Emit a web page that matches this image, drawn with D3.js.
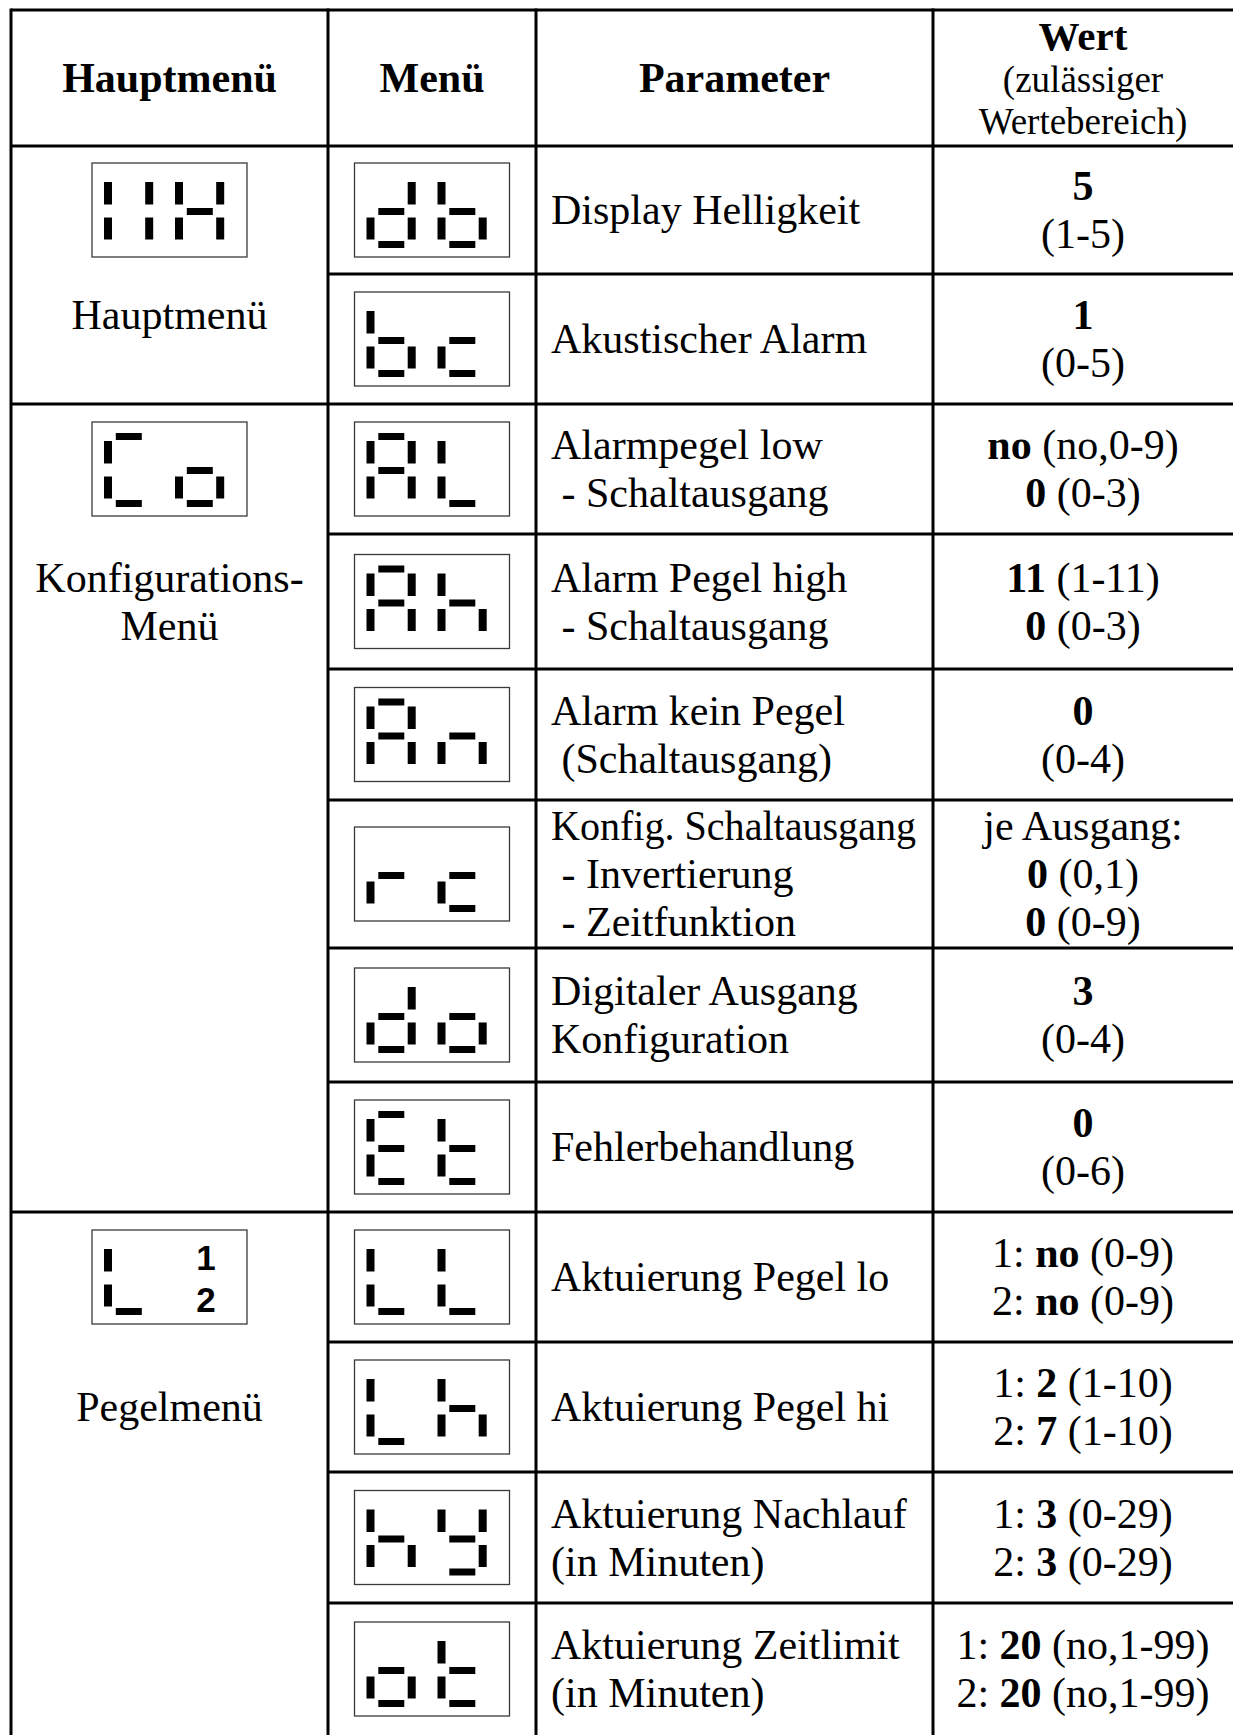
<!DOCTYPE html>
<html><head><meta charset="utf-8">
<script src="https://cdn.jsdelivr.net/npm/d3@7"></script>
<style>
html,body{margin:0;padding:0;background:#fff;}
svg{display:block;}
text{white-space:pre;}
</style></head>
<body>
<script>
// ---------- DATA ----------
const headers = ["Hauptmenü", "Menü", "Parameter"];
const valueHeader = ["Wert", "(zulässiger", "Wertebereich)"];

const groupLabels = [["Hauptmenü"], ["Konfigurations-", "Menü"], ["Pegelmenü"]];
const groupIcons = ["‖H", "Co", "L"];
const groupIconExtra = [null, null, ["1", "2"]];

const rowGroup = [0, 0, 1, 1, 1, 1, 1, 1, 2, 2, 2, 2];
const menuIcons = ["db", "bc", "AL", "Ah", "An", "rc", "do", "Et", "LL", "Lh", "hy", "ot"];
const parameters = [
  ["Display Helligkeit"],
  ["Akustischer Alarm"],
  ["Alarmpegel low", " - Schaltausgang"],
  ["Alarm Pegel high", " - Schaltausgang"],
  ["Alarm kein Pegel", " (Schaltausgang)"],
  ["Konfig. Schaltausgang", " - Invertierung", " - Zeitfunktion"],
  ["Digitaler Ausgang", "Konfiguration"],
  ["Fehlerbehandlung"],
  ["Aktuierung Pegel lo"],
  ["Aktuierung Pegel hi"],
  ["Aktuierung Nachlauf", "(in Minuten)"],
  ["Aktuierung Zeitlimit", "(in Minuten)"]
];
const values = [
  ["**5**", "(1-5)"],
  ["**1**", "(0-5)"],
  ["**no** (no,0-9)", "**0** (0-3)"],
  ["**11** (1-11)", "**0** (0-3)"],
  ["**0**", "(0-4)"],
  ["je Ausgang:", "**0** (0,1)", "**0** (0-9)"],
  ["**3**", "(0-4)"],
  ["**0**", "(0-6)"],
  ["1: **no** (0-9)", "2: **no** (0-9)"],
  ["1: **2** (1-10)", "2: **7** (1-10)"],
  ["1: **3** (0-29)", "2: **3** (0-29)"],
  ["1: **20** (no,1-99)", "2: **20** (no,1-99)"]
];
// seven-segment glyphs (segments a..g)
const glyphs = {"‖":"bcef", H:"bcefg", C:"adef", o:"cdeg", L:"def", d:"bcdeg", b:"cdefg",
  c:"deg", A:"abcefg", h:"cefg", n:"ceg", r:"eg", E:"adefg", t:"defg", y:"bcdfg"};

// ---------- LAYOUT ----------
const W = 1233, H = 1735;
const colX = [11, 328, 536, 933, W];
const topY = 10, headerBottom = 146;
const rowHeights = [128, 130, 130, 135, 131, 148, 134, 130, 130, 130, 131, 132];
const groupLabelShift = [-24, 0, 0];
const lineGap = 48;
const serif = "'Liberation Serif','Times New Roman',serif";
const boxW = 155, boxH = 94;
const segGeom = {a:[11.8,11,26,7], b:[41.2,19,8,22.5], c:[41.2,54.5,8,22], d:[11.8,78,26,7],
  e:[0,54.5,8,22], f:[0,19,8,22.5], g:[11.8,45,26,7]};

const rowTop = [headerBottom, ...d3.cumsum(rowHeights).map(v => v + headerBottom)];
const rowMid = i => (rowTop[i] + rowTop[i + 1]) / 2;

const svg = d3.select("body").append("svg").attr("width", W).attr("height", H);
svg.append("rect").attr("width", W).attr("height", H).attr("fill", "#fff");

// ---------- GRID LINES ----------
const lines = [];
lines.push([colX[0], topY, W, topY]);
lines.push([colX[0], headerBottom, W, headerBottom]);
for (let i = 0; i < rowHeights.length - 1; i++) {
  const y = rowTop[i + 1];
  const x0 = rowGroup[i + 1] !== rowGroup[i] ? colX[0] : colX[1];
  lines.push([x0, y, W, y]);
}
[0, 1, 2, 3].forEach(c => lines.push([colX[c], topY - 1.5, colX[c], H]));
svg.append("g").selectAll("line").data(lines).join("line")
  .attr("x1", d => d[0]).attr("y1", d => d[1]).attr("x2", d => d[2]).attr("y2", d => d[3])
  .attr("stroke", "#000").attr("stroke-width", 3);

// ---------- TEXT HELPERS ----------
function richText(sel, str) {
  const parts = str.split("**");
  parts.forEach((p, k) => {
    if (!p) return;
    sel.append("tspan").attr("font-weight", k % 2 ? "bold" : "normal").text(p);
  });
}
function block(g, lineArr, x, cy, anchor, size, gap, fmt, maxW) {
  const n = lineArr.length;
  lineArr.forEach((s, k) => {
    const t = g.append("text").attr("x", x)
      .attr("y", cy + (k - (n - 1) / 2) * gap + size * 0.335)
      .attr("text-anchor", anchor).attr("font-family", serif).attr("font-size", size)
      .attr("fill", "#000").attr("xml:space", "preserve");
    if (fmt) richText(t, s); else t.text(s);
    if (maxW) {
      const len = t.node().getComputedTextLength();
      if (len > maxW) t.attr("textLength", maxW).attr("lengthAdjust", "spacingAndGlyphs");
    }
  });
}

// ---------- ICONS ----------
function drawIcon(g, x, y, code, extra) {
  const ig = g.append("g").attr("transform", `translate(${x},${y})`);
  ig.append("rect").attr("x", 0).attr("y", 0).attr("width", boxW).attr("height", boxH)
    .attr("fill", "#fff").attr("stroke", "#3a3a3a").attr("stroke-width", 1.3);
  const segs = [];
  Array.from(code).forEach((ch, i) => {
    const x0 = 12 + 71 * i;
    Array.from(glyphs[ch]).forEach(s => segs.push([x0 + segGeom[s][0], segGeom[s][1], segGeom[s][2], segGeom[s][3]]));
  });
  ig.selectAll("rect.seg").data(segs).join("rect").attr("class", "seg")
    .attr("x", d => d[0]).attr("y", d => d[1]).attr("width", d => d[2]).attr("height", d => d[3])
    .attr("fill", "#000");
  if (extra) {
    ig.selectAll("text").data(extra).join("text")
      .attr("x", 114).attr("y", (d, k) => 40 + 42 * k)
      .attr("text-anchor", "middle").attr("font-family", "'Liberation Sans',Arial,sans-serif")
      .attr("font-weight", "bold").attr("font-size", 35).attr("fill", "#000").text(d => d);
  }
}

// ---------- HEADER ----------
const hg = svg.append("g");
headers.forEach((h, i) => {
  hg.append("text").attr("x", (colX[i] + colX[i + 1]) / 2).attr("y", 92)
    .attr("text-anchor", "middle").attr("font-family", serif).attr("font-weight", "bold")
    .attr("font-size", 42).attr("fill", "#000").text(h);
});
const vx = (colX[3] + colX[4]) / 2;
hg.append("text").attr("x", vx).attr("y", 50).attr("text-anchor", "middle").attr("font-family", serif)
  .attr("font-weight", "bold").attr("font-size", 41).attr("fill", "#000").text(valueHeader[0]);
valueHeader.slice(1).forEach((s, k) => {
  hg.append("text").attr("x", vx).attr("y", 92 + 41.5 * k).attr("text-anchor", "middle")
    .attr("font-family", serif).attr("font-size", 37).attr("fill", "#000").text(s);
});

// ---------- ROWS ----------
const bg = svg.append("g");
rowHeights.forEach((h, i) => {
  const cy = rowMid(i);
  const by = cy - boxH / 2;
  drawIcon(bg, (colX[1] + colX[2]) / 2 - boxW / 2, by, menuIcons[i], null);
  block(bg, parameters[i], colX[2] + 15, cy, "start", 42, lineGap, false, colX[3] - colX[2] - 32);
  block(bg, values[i], vx, cy, "middle", 42, lineGap, true, null);
});

// ---------- GROUPS ----------
groupLabels.forEach((lab, gi) => {
  const first = rowGroup.indexOf(gi);
  const by = rowMid(first) - boxH / 2;
  const cx = (colX[0] + colX[1]) / 2;
  drawIcon(bg, cx - boxW / 2, by, groupIcons[gi], groupIconExtra[gi]);
  block(bg, lab, cx, rowMid(first + 1) + groupLabelShift[gi], "middle", 42, lineGap, false, null);
});
</script>
</body></html>
